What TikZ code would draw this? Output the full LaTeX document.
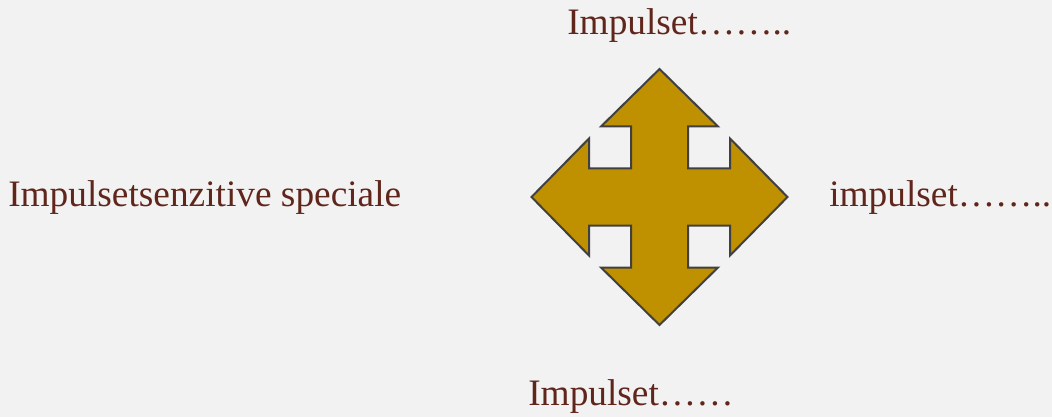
\documentclass[tikz,border=0pt]{standalone}
\usepackage{fontspec}
\setmainfont{Liberation Serif}
\definecolor{bgc}{HTML}{F2F2F2}
\definecolor{txtc}{RGB}{96,38,28}
\definecolor{goldc}{HTML}{BF9000}
\definecolor{edgec}{HTML}{404040}
\tikzset{
  lbl/.style={text=txtc, font=\fontsize{28}{33}\selectfont, inner sep=0pt, anchor=base west},
  cross/.style={fill=goldc, draw=edgec, line width=1.5pt, line join=miter}
}
\begin{document}
\begin{tikzpicture}[x=0.75pt, y=-0.75pt]
\fill[bgc] (0,0) rectangle (1052,417);
\useasboundingbox (0,0) rectangle (1052,417);
\def\T{128}\def\B{70.5}\def\H{58.5}\def\S{28.5}
\begin{scope}[shift={(659.5,197)}]
\draw[cross] (0,-\T) -- (\H,-\B) -- (\S,-\B) -- (\S,-\S) -- (\B,-\S) -- (\B,-\H)
 -- (\T,0) -- (\B,\H) -- (\B,\S) -- (\S,\S) -- (\S,\B) -- (\H,\B)
 -- (0,\T) -- (-\H,\B) -- (-\S,\B) -- (-\S,\S) -- (-\B,\S) -- (-\B,\H)
 -- (-\T,0) -- (-\B,-\H) -- (-\B,-\S) -- (-\S,-\S) -- (-\S,-\B) -- (-\H,-\B) -- cycle;
\end{scope}
\node[lbl] (top) at (567,35) {Impulset……..};
\node[lbl] (left) at (8,206) {Impulsetsenzitive speciale};
\node[lbl] (right) at (829,206) {impulset……..};
\node[lbl] (bottom) at (528,405) {Impulset……};
\end{tikzpicture}
\end{document}
